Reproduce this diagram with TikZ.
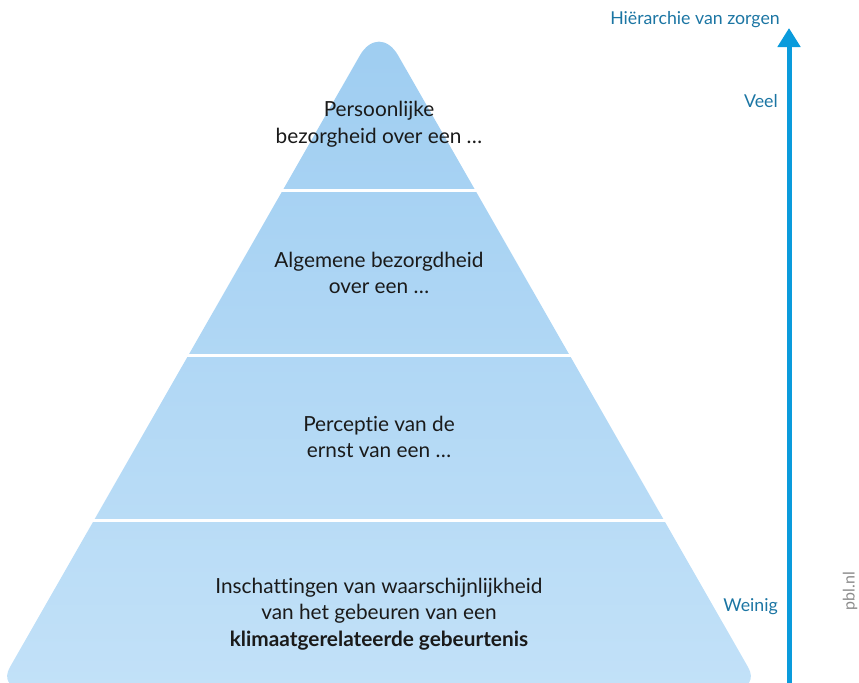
\documentclass[tikz,border=0pt]{standalone}
\usepackage{fontspec}
\setmainfont{Lato}[Ligatures=NoCommon]
\usetikzlibrary{arrows.meta}
\definecolor{tierTop}{HTML}{9ECDF1}
\definecolor{tierBot}{HTML}{C2E1F8}
\definecolor{arrowBlue}{HTML}{0A9BDC}
\definecolor{labelBlue}{HTML}{1B75A3}
\definecolor{pblGray}{HTML}{8A8A8A}
\definecolor{txt}{HTML}{1A1A1A}
\tikzset{
  tiertext/.style={align=center, text=txt, font=\fontsize{15.6}{20}\selectfont, inner sep=0pt},
  sidelabel/.style={anchor=east, text=labelBlue, font=\fontsize{13.3}{16}\selectfont, inner sep=0pt},
  sepline/.style={white, line width=2.25pt},
}
\begin{document}
\begin{tikzpicture}[x=0.75pt,y=-0.75pt]
\useasboundingbox (0,0) rectangle (859,682);
\clip (0,0) rectangle (859,682);
% pyramid
\shade[top color=tierTop, bottom color=tierBot]
  (379,688) [rounded corners=18pt] -- (760,688) [rounded corners=29pt] -- (379,22) [rounded corners=18pt] -- (-2,688) -- cycle;
% separators
\coordinate (s1l) at (150,190); \coordinate (s1r) at (610,190);
\coordinate (s2l) at (100,355); \coordinate (s2r) at (660,355);
\coordinate (s3l) at (40,520);  \coordinate (s3r) at (720,520);
\draw[sepline] (s1l) -- (s1r);
\draw[sepline] (s2l) -- (s2r);
\draw[sepline] (s3l) -- (s3r);
% tier texts
\node[tiertext] (t1) at (379,124) {Persoonlijke\\bezorgheid over een \dots};
\node[tiertext] (t2) at (379,273) {Algemene bezorgdheid\\over een \dots};
\node[tiertext] (t3) at (379,437) {Perceptie van de\\ernst van een \dots};
\node[tiertext] (t4) at (379,614) {Inschattingen van waarschijnlijkheid\\van het gebeuren van een\\\textbf{klimaatgerelateerde gebeurtenis}};
% arrow
\coordinate (arrbase) at (789,690);
\coordinate (arrtip) at (789,28);
\draw[arrowBlue, line width=3.75pt, -{Triangle[length=14.25pt,width=16.5pt]}] (arrbase) -- (arrtip);
\node[sidelabel] (hier) at (780,20) {Hiërarchie van zorgen};
\node[sidelabel] (veel) at (778,101) {Veel};
\node[sidelabel] (weinig) at (778,607) {Weinig};
\node[rotate=90, text=pblGray, font=\fontsize{12}{14}\selectfont, inner sep=0pt] (pbl) at (850,591) {pbl.nl};
\end{tikzpicture}
\end{document}
